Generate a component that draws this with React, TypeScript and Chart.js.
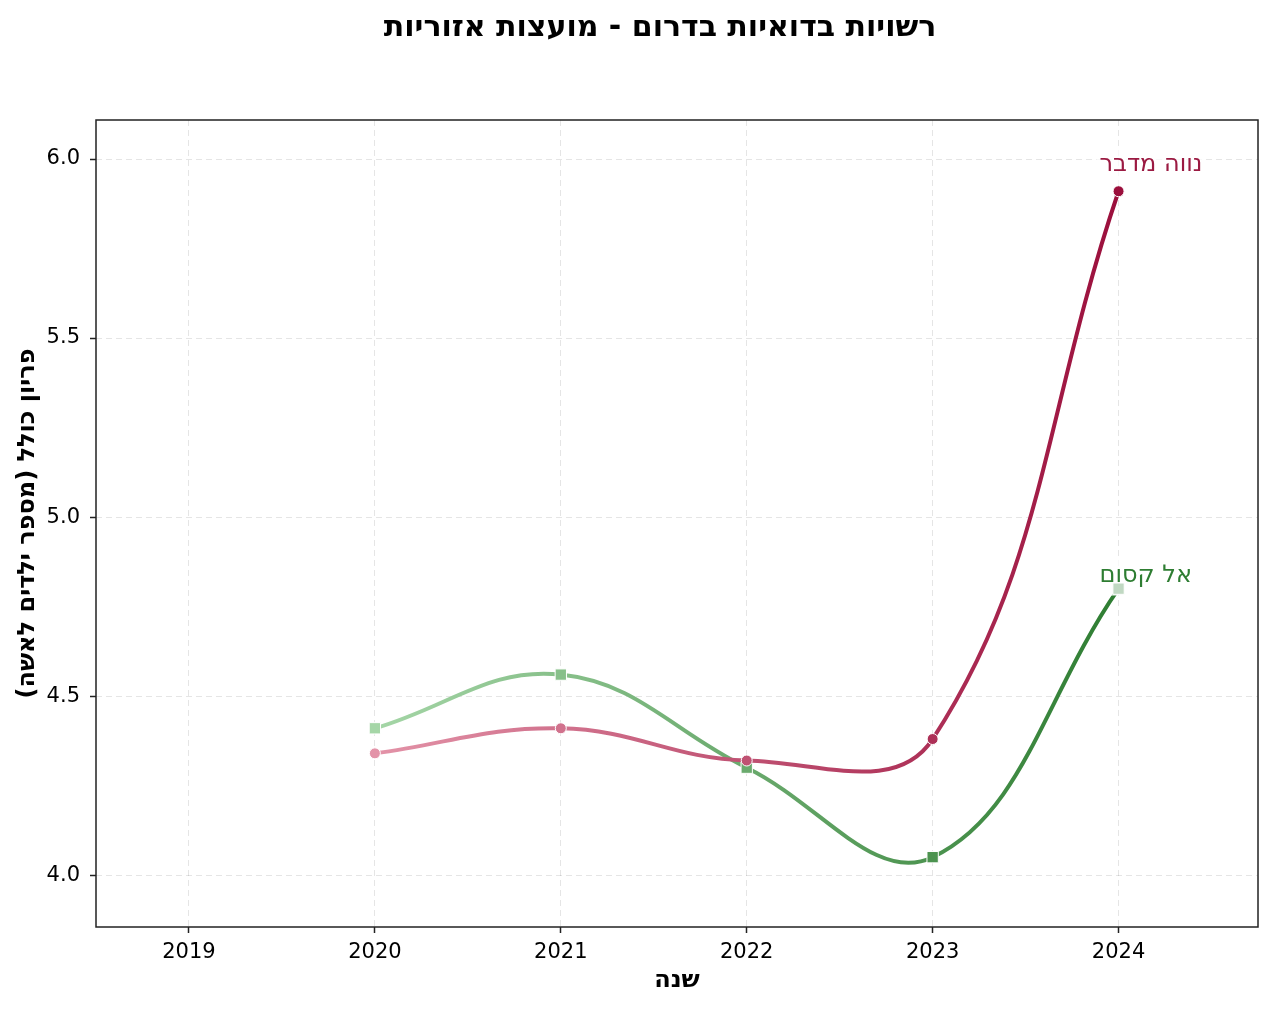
import { useEffect, useRef } from 'react'
import { Chart, registerables } from 'chart.js'

Chart.register(...registerables)

const years = [2020, 2021, 2022, 2023, 2024]
const naveMidbar = [4.34, 4.41, 4.32, 4.38, 5.91]
const alKasum = [4.41, 4.56, 4.3, 4.05, 4.8]
const xTicks = [2019, 2020, 2021, 2022, 2023, 2024]
const yTicks = [4.0, 4.5, 5.0, 5.5, 6.0]

const seriesNames = ['נווה מדבר', 'אל קסום']
const chartTitle = 'רשויות בדואיות בדרום - מועצות אזוריות'
const xTitle = 'שנה'
const yTitle = 'פריון כולל (מספר ילדים לאשה)'

const FONT = '"DejaVu Sans", sans-serif'

const mix = (a: string, b: string, t: number) => {
  const pa = [1, 3, 5].map((i) => parseInt(a.slice(i, i + 2), 16))
  const pb = [1, 3, 5].map((i) => parseInt(b.slice(i, i + 2), 16))
  const c = pa.map((v, i) => Math.round(v + (pb[i] - v) * t))
  return `rgb(${c[0]}, ${c[1]}, ${c[2]})`
}

const palettes = [
  { light: '#e393a8', dark: '#9b0f3c', text: '#9b1a42' },
  { light: '#a5d6a7', dark: '#2e7d32', text: '#2e7d32' },
]

const gradientFor = (light: string, dark: string) => (ctx: any) => {
  const chart = ctx.chart
  const { chartArea, scales } = chart
  if (!chartArea || !scales.x) return dark
  const x0 = scales.x.getPixelForValue(years[0])
  const x1 = scales.x.getPixelForValue(years[years.length - 1])
  const g = chart.ctx.createLinearGradient(x0, 0, x1, 0)
  g.addColorStop(0, light)
  g.addColorStop(1, dark)
  return g
}

const textPlugin = {
  id: 'textPlugin',
  afterDraw(chart: any) {
    const { ctx, chartArea } = chart
    const { left, right, top, bottom } = chartArea
    ctx.save()
    // frame
    ctx.strokeStyle = '#222'
    ctx.lineWidth = 1.5
    ctx.strokeRect(left, top, right - left, bottom - top)

    // end-of-line labels
    const xs = chart.scales.x
    const ys = chart.scales.y
    const last = years.length - 1
    const labelOffsets = [
      { dx: -19, dy: -26 },
      { dx: -19, dy: -13 },
    ]
    ;[naveMidbar, alKasum].forEach((vals, i) => {
      const px = xs.getPixelForValue(years[last]) + labelOffsets[i].dx
      const py = ys.getPixelForValue(vals[last]) + labelOffsets[i].dy
      ctx.font = `24px ${FONT}`
      ctx.textAlign = 'left'
      ctx.textBaseline = 'middle'
      const w = ctx.measureText(seriesNames[i]).width
      ctx.fillStyle = 'rgba(255,255,255,0.7)'
      ctx.fillRect(px - 3, py - 16, w + 6, 36)
      ctx.fillStyle = palettes[i].text
      ctx.fillText(seriesNames[i], px, py)
    })

    // title
    ctx.fillStyle = '#000'
    ctx.font = `bold 30px ${FONT}`
    ctx.textAlign = 'center'
    ctx.textBaseline = 'middle'
    ctx.fillText(chartTitle, 660, 28)

    // axis titles
    ctx.font = `bold 24px ${FONT}`
    ctx.fillText(xTitle, (left + right) / 2, 981)
    ctx.translate(28, (top + bottom) / 2)
    ctx.rotate(-Math.PI / 2)
    ctx.fillText(yTitle, 0, 0)
    ctx.restore()
  },
}

const App = () => {
  const chartRef = useRef<HTMLCanvasElement>(null)
  const chartInstance = useRef<Chart | null>(null)

  useEffect(() => {
    document.body.style.margin = '0'
    if (!chartRef.current) return
    const ctx = chartRef.current.getContext('2d')
    if (!ctx) return
    if (chartInstance.current) chartInstance.current.destroy()

    const makeDataset = (label: string, vals: number[], i: number, style: string, radius: number) => ({
      label,
      data: years.map((y, k) => ({ x: y, y: vals[k] })),
      borderColor: gradientFor(palettes[i].light, palettes[i].dark),
      borderWidth: 4,
      tension: 0.4,
      fill: false,
      pointStyle: style,
      pointRadius: radius,
      pointHoverRadius: radius,
      pointBorderColor: '#ffffff',
      pointBorderWidth: 1,
      pointBackgroundColor: years.map((_, k) => mix(palettes[i].light, palettes[i].dark, k / (years.length - 1))),
    })

    chartInstance.current = new Chart(ctx, {
      type: 'line',
      data: {
        datasets: [
          makeDataset(seriesNames[0], naveMidbar, 0, 'circle', 5.5),
          makeDataset(seriesNames[1], alKasum, 1, 'rect', 8),
        ] as any,
      },
      options: {
        responsive: true,
        maintainAspectRatio: false,
        animation: false,
        layout: { padding: { left: 0, right: 15, top: 120, bottom: 0 } },
        plugins: {
          legend: { display: false },
          tooltip: { enabled: false },
          title: { display: false },
        },
        scales: {
          x: {
            type: 'linear',
            min: 2018.5,
            max: 2024.75,
            afterBuildTicks: (scale: any) => {
              scale.ticks = xTicks.map((v) => ({ value: v }))
            },
            afterFit: (scale: any) => {
              scale.height = 84
            },
            grid: {
              color: 'rgba(0,0,0,0.1)',
              lineWidth: 1,
              drawTicks: true,
              tickLength: 6,
              tickColor: '#222',
              tickWidth: 1.5,
              tickBorderDash: [],
            },
            border: { display: false, dash: [6, 4] },
            ticks: {
              color: '#000',
              font: { family: FONT, size: 21 },
              padding: 7,
              maxRotation: 0,
              callback: (v: any) => String(v),
            },
          },
          y: {
            type: 'linear',
            min: 3.855,
            max: 6.109,
            afterBuildTicks: (scale: any) => {
              scale.ticks = yTicks.map((v) => ({ value: v }))
            },
            afterFit: (scale: any) => {
              scale.width = 96
            },
            grid: {
              color: 'rgba(0,0,0,0.1)',
              lineWidth: 1,
              drawTicks: true,
              tickLength: 6,
              tickColor: '#222',
              tickWidth: 1.5,
              tickBorderDash: [],
            },
            border: { display: false, dash: [6, 4] },
            ticks: {
              color: '#000',
              font: { family: FONT, size: 21 },
              padding: 10,
              callback: (v: any) => Number(v).toFixed(1),
            },
          },
        },
      },
      plugins: [textPlugin],
    })

    return () => {
      if (chartInstance.current) {
        chartInstance.current.destroy()
        chartInstance.current = null
      }
    }
  }, [])

  return (
    <div style={{ width: 1273, height: 1011, position: 'relative', background: '#fff' }}>
      <canvas ref={chartRef}></canvas>
    </div>
  )
}

export default App
